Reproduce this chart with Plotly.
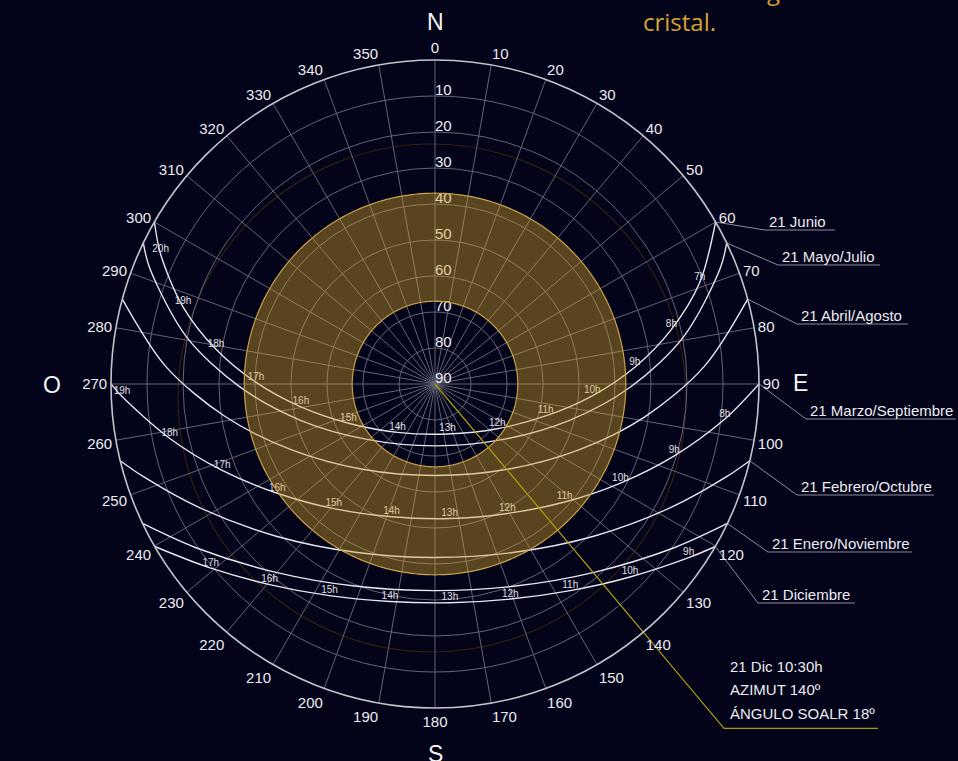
import numpy as np
import plotly.graph_objects as go

# ---------------------------------------------------------------- data
AZIMUTH_TICKS = list(range(0, 360, 10))
AZIMUTH_LABELS = [str(a) for a in AZIMUTH_TICKS]
ELEVATION_GRID = [10, 20, 30, 40, 50, 60, 70, 80]
ELEVATION_LABEL_VALUES = [10, 20, 30, 40, 50, 60, 70, 80, 90]
ELEVATION_LABELS = [str(v) for v in ELEVATION_LABEL_VALUES]

# Sun paths (azimuth, solar elevation) in degrees, first/last point = horizon
JUN_AZ = [60.0, 69.0, 77.0, 85.2, 94.3, 106.1, 125.7, 166.0, 217.8, 245.6, 260.3, 270.5, 279.0, 287.0, 295.3, 300.0]
JUN_EL = [0.0, 11.2, 22.6, 34.3, 46.2, 58.0, 68.7, 75.7, 73.0, 63.6, 52.2, 40.3, 28.4, 16.8, 5.7, 0.0]
JUN_HOURS = ["", "7h", "8h", "9h", "10h", "11h", "12h", "13h", "14h", "15h", "16h", "17h", "18h", "19h", "20h", ""]

MAY_AZ = [64.2, 68.0, 79.3, 90.8, 105.1, 129.1, 180.0, 230.9, 254.9, 269.3, 280.7, 292.0, 295.8]
MAY_EL = [0.0, 4.6, 19.8, 35.6, 51.3, 65.6, 72.8, 65.6, 51.3, 35.6, 19.8, 4.6, 0.0]

APR_AZ = [74.8, 86.3, 98.9, 114.8, 139.6, 180.0, 220.4, 245.3, 261.2, 273.7, 285.2]
APR_EL = [0.0, 15.1, 31.0, 46.2, 58.9, 64.6, 58.9, 46.2, 31.0, 15.1, 0.0]

MAR_AZ = [90.0, 96.9, 106.7, 118.1, 132.3, 150.8, 173.8, 198.1, 219.1, 235.3, 247.9, 258.4, 267.7, 270.0]
MAR_EL = [0.0, 8.9, 20.6, 31.6, 41.3, 48.8, 52.4, 51.2, 45.4, 36.7, 26.2, 14.8, 3.0, 0.0]
MAR_HOURS = ["", "8h", "9h", "10h", "11h", "12h", "13h", "14h", "15h", "16h", "17h", "18h", "19h", ""]

FEB_AZ = [103.7, 107.7, 117.7, 133.8, 154.7, 180.0, 205.3, 226.2, 242.3, 252.3, 256.3]
FEB_EL = [0.0, 5.1, 16.1, 28.9, 38.3, 41.8, 38.3, 28.9, 16.1, 5.1, 0.0]

JAN_AZ = [115.5, 124.4, 139.6, 158.3, 180.0, 201.7, 220.4, 235.6, 244.5]
JAN_EL = [0.0, 9.5, 21.4, 29.6, 32.6, 29.6, 21.4, 9.5, 0.0]

DEC_AZ = [120.1, 124.4, 134.7, 146.8, 160.7, 176.1, 191.7, 206.5, 219.5, 230.6, 239.9]
DEC_EL = [0.0, 4.6, 13.8, 21.4, 26.7, 29.1, 28.3, 24.3, 17.8, 9.4, 0.0]
DEC_HOURS = ["", "9h", "10h", "11h", "12h", "13h", "14h", "15h", "16h", "17h", ""]

DATES = ["21 Junio", "21 Mayo/Julio", "21 Abril/Agosto", "21 Marzo/Septiembre",
         "21 Febrero/Octubre", "21 Enero/Noviembre", "21 Diciembre"]

# Shaded band of solar elevations (inner / outer limits)
BAND_ELEVATIONS = [37.0, 67.0]

# Highlighted sun position
POINTER_DATE = "21 Dic 10:30h"
POINTER_AZIMUTH = 140
POINTER_ELEVATION = 18

# ---------------------------------------------------------------- layout geometry (pixels)
W, H = 958, 761
CX, CY, R = 435.0, 384.0, 324.0
S = R / 90.0  # pixels per degree of zenith distance


def ux(px):
    return (px - CX) / S


def uy(py):
    return (CY - py) / S


LABEL_LIFT = 1.2            # elevation labels sit just outside their grid circle
LEADER_KNEES = [(765, 230), (778, 265), (797, 324), (806, 419), (797, 495), (768, 552), (758, 603)]
LEADER_ENDS = [835, 880, 908, 956, 934, 912, 855]
POINTER_KNEE_DIST = 124.9   # zenith-degree units from the centre
POINTER_LINE_END = 878
INFO_TEXT_X = 728
INFO_TEXT_Y = [666, 689, 713]
COMPASS = [("N", 435, 22), ("E", 800, 383), ("S", 435, 754), ("O", 52, 385)]

BG = "#03031a"
GRID = "#646476"
CURVE = "#e6e6ee"
TEXT = "#ececf0"
LEADER = "#8c8c9c"
POINTER = "#a89c08"
FONT = "Liberation Sans, Arial, sans-serif"

curves = [(JUN_AZ, JUN_EL), (MAY_AZ, MAY_EL), (APR_AZ, APR_EL), (MAR_AZ, MAR_EL),
          (FEB_AZ, FEB_EL), (JAN_AZ, JAN_EL), (DEC_AZ, DEC_EL)]
hour_sets = [(JUN_AZ, JUN_EL, JUN_HOURS), (MAR_AZ, MAR_EL, MAR_HOURS), (DEC_AZ, DEC_EL, DEC_HOURS)]

fig = go.Figure()

# elevation labels along the north spoke
fig.add_trace(go.Scatterpolar(
    theta=[0] * len(ELEVATION_LABEL_VALUES),
    r=[v - LABEL_LIFT for v in ELEVATION_LABEL_VALUES],
    text=ELEVATION_LABELS, mode="text", textposition="middle right",
    textfont=dict(size=15, color=TEXT, family=FONT), hoverinfo="skip"))

# sun path curves
for az, el in curves:
    fig.add_trace(go.Scatterpolar(
        theta=az, r=el, mode="lines",
        line=dict(color=CURVE, width=1.4, shape="spline", smoothing=0.9),
        hoverinfo="skip"))

# hour labels
for az, el, hrs in hour_sets:
    fig.add_trace(go.Scatterpolar(
        theta=az, r=el, text=hrs, mode="text", textposition="top center",
        textfont=dict(size=10, color="#e0e0e4", family=FONT), hoverinfo="skip"))

# shaded elevation band (outer ring clockwise, inner ring reversed -> hole)
ring = np.arange(0, 361, 1.0)
e_lo, e_hi = BAND_ELEVATIONS
band_theta = list(ring) + [None] + list(ring[::-1])
band_r = [e_lo] * len(ring) + [None] + [e_hi] * len(ring)
fig.add_trace(go.Scatterpolar(
    theta=band_theta, r=band_r, mode="lines", fill="toself",
    fillcolor="rgba(210,160,40,0.42)", line=dict(width=0, color="rgba(0,0,0,0)"),
    connectgaps=False, hoverinfo="skip"))
for e in BAND_ELEVATIONS:
    fig.add_trace(go.Scatterpolar(
        theta=list(ring), r=[e] * len(ring), mode="lines",
        line=dict(color="#c9a04a", width=1.2), hoverinfo="skip"))

# pointer to the highlighted sun position (inside the dial)
fig.add_trace(go.Scatterpolar(
    theta=[POINTER_AZIMUTH, POINTER_AZIMUTH], r=[90, 0], mode="lines",
    line=dict(color=POINTER, width=1.2), hoverinfo="skip"))

# ---- callouts outside the dial (cartesian overlay in zenith-degree units)
annotations = []
for (az, el), label, (kx, ky), ex in zip(curves, DATES, LEADER_KNEES, LEADER_ENDS):
    a = np.radians(az[0])
    sx, sy = (90 - el[0]) * np.sin(a), (90 - el[0]) * np.cos(a)
    fig.add_trace(go.Scatter(
        x=[sx, ux(kx), ux(ex)], y=[sy, uy(ky), uy(ky)], mode="lines",
        line=dict(color=LEADER, width=1), xaxis="x", yaxis="y", hoverinfo="skip"))
    annotations.append(dict(
        x=ux(kx + 2), y=uy(ky - 9), xref="x", yref="y", text=label, showarrow=False,
        xanchor="left", yanchor="middle", font=dict(size=15, color=TEXT, family=FONT)))

pa = np.radians(POINTER_AZIMUTH)
kx_u, ky_u = POINTER_KNEE_DIST * np.sin(pa), POINTER_KNEE_DIST * np.cos(pa)
fig.add_trace(go.Scatter(
    x=[90 * np.sin(pa), kx_u, ux(POINTER_LINE_END)], y=[90 * np.cos(pa), ky_u, ky_u],
    mode="lines", line=dict(color=POINTER, width=1.2), xaxis="x", yaxis="y", hoverinfo="skip"))

info = [POINTER_DATE, f"AZIMUT {POINTER_AZIMUTH}º", f"ÁNGULO SOALR {POINTER_ELEVATION}º"]
for txt, ty in zip(info, INFO_TEXT_Y):
    annotations.append(dict(
        x=ux(INFO_TEXT_X), y=uy(ty), xref="x", yref="y", text=txt, showarrow=False,
        xanchor="left", yanchor="middle", font=dict(size=15, color=TEXT, family=FONT)))

for letter, px, py in COMPASS:
    annotations.append(dict(
        x=ux(px), y=uy(py), xref="x", yref="y", text=letter, showarrow=False,
        xanchor="center", yanchor="middle", font=dict(size=23, color="#f4f4f4", family=FONT)))

annotations.append(dict(
    x=ux(641), y=uy(40), xref="x", yref="y",
    text="sobre el ángulo de incidencia del<br>cristal.", showarrow=False, align="left",
    xanchor="left", yanchor="bottom", font=dict(size=24, color="#d6a232", family="Open Sans, sans-serif")))

ghost = dict(type="circle", xref="x", yref="y", layer="below",
             x0=ux(432 - 254), x1=ux(432 + 254), y0=uy(398 + 254), y1=uy(398 - 254),
             line=dict(color="#2e220f", width=1.2))

fig.update_layout(
    width=W, height=H, margin=dict(l=0, r=0, t=0, b=0),
    paper_bgcolor=BG, plot_bgcolor="rgba(0,0,0,0)", showlegend=False,
    xaxis=dict(domain=[0, 1], range=[ux(0), ux(W)], visible=False, fixedrange=True),
    yaxis=dict(domain=[0, 1], range=[uy(H), uy(0)], visible=False, fixedrange=True),
    polar=dict(
        domain=dict(x=[(CX - R) / W, (CX + R) / W], y=[(H - CY - R) / H, (H - CY + R) / H]),
        bgcolor="rgba(0,0,0,0)",
        angularaxis=dict(
            rotation=90, direction="clockwise", tickmode="array",
            tickvals=AZIMUTH_TICKS, ticktext=AZIMUTH_LABELS, ticks="",
            showgrid=True, gridcolor=GRID, gridwidth=1,
            showline=True, linecolor="#c4c4cc", linewidth=1.6,
            tickfont=dict(size=15, color=TEXT, family=FONT)),
        radialaxis=dict(
            range=[90, 0], tickmode="array", tickvals=ELEVATION_GRID,
            showticklabels=False, ticks="", showline=False,
            showgrid=True, gridcolor=GRID, gridwidth=1, layer="below traces"),
    ),
    shapes=[ghost],
    annotations=annotations,
)

fig.write_html("out.html")
